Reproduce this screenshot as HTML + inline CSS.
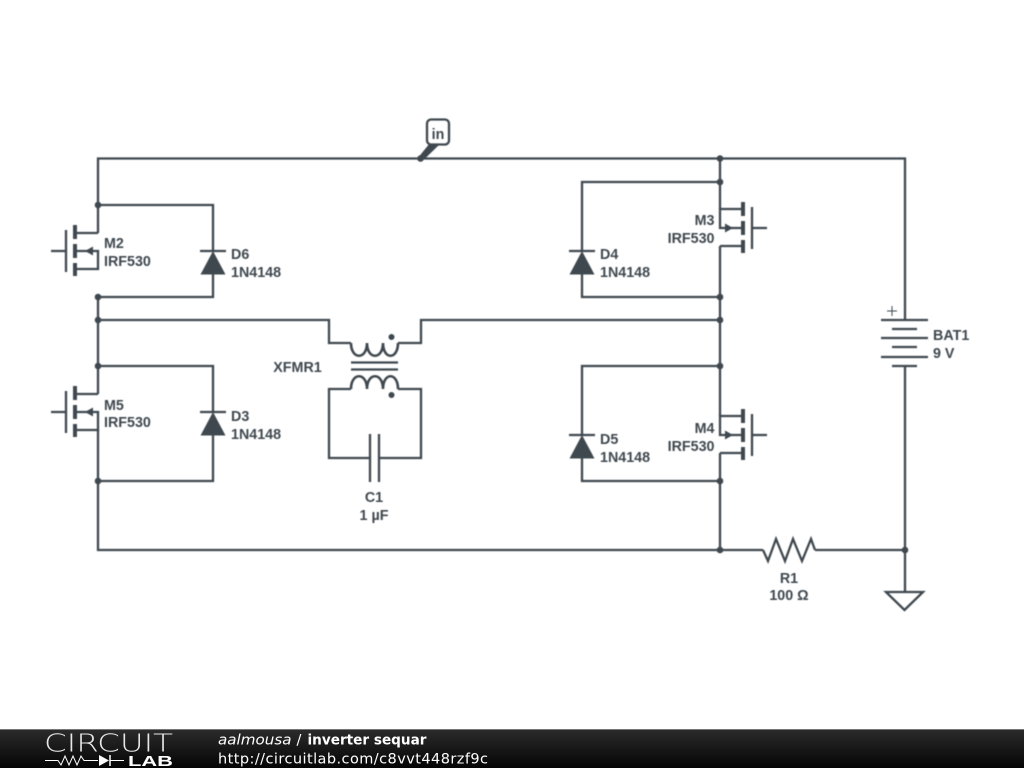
<!DOCTYPE html>
<html><head><meta charset="utf-8"><style>
html,body{margin:0;padding:0;background:#fff;width:1024px;height:768px;overflow:hidden}
svg{display:block}
.w{fill:none;stroke:#3f484f;stroke-width:2.300;stroke-linejoin:miter}
.p{fill:none;stroke:#3f484f;stroke-width:4}
.d{fill:#3f484f}
.t{font-family:"Liberation Sans",sans-serif;font-weight:bold;font-size:14.300px;fill:#3f484f}
.f{font-family:"DejaVu Sans",sans-serif;font-size:14.500px;fill:#fff}
.s{filter:blur(0.4px)}
</style></head><body>
<svg width="1024" height="768" viewBox="0 0 1024 768" xmlns="http://www.w3.org/2000/svg">
<defs>
<linearGradient id="g" x1="0" y1="0" x2="0" y2="1"><stop offset="0" stop-color="#2c2c2c"/><stop offset="1" stop-color="#050505"/></linearGradient>
</defs>
<rect width="1024" height="768" fill="#fff"/>
<g class="s">
<!-- main wires -->
<path class="w" d="M98 205V158.500H905V320M720 158.500V209M98 297V394M720 246V416M720 453V550"/>
<path class="w" d="M98 430V550H763M815 550H905M905 366V592"/>
<path class="w" d="M98 320H329V343H351M398 343H421V320H720"/>
<path class="w" d="M351 389H329V458H370M379 458H421V389H398"/>

<!-- boxes -->
<path class="w" d="M98 205H213V251M213 273V297H98"/>
<path class="w" d="M98 366H213V412M213 435V481H98"/>
<path class="w" d="M720 182H582V251M582 274V297H720"/>
<path class="w" d="M720 366H582V435M582 458V481H720"/>

<!-- M2 -->
<path class="w" d="M51 251H66M66 230V272M75 233H98M75 251H98V269H75M98 233V205"/>
<path class="p" d="M75 225V239M75 244V258M75 263V276"/>
<path class="d" d="M85 251L93 246.500V255.500Z"/>
<!-- M5 -->
<path class="w" d="M51 412H66M66 391V433M75 394H98M75 412H98V430H75"/>
<path class="p" d="M75 386V400M75 405V419M75 424V437"/>
<path class="d" d="M85 412L93 407.500V416.500Z"/>
<!-- M3 -->
<path class="w" d="M767 228H752M752 207V249M743 209H720V228H743M743 246H720"/>
<path class="p" d="M743 202V216M743 221V235M743 240V253"/>
<path class="d" d="M733 228L725 223.500V232.500Z"/>
<!-- M4 -->
<path class="w" d="M767 435H752M752 414V456M743 416H720V435H743M743 453H720"/>
<path class="p" d="M743 409V423M743 428V442M743 447V460"/>
<path class="d" d="M733 435L725 430.500V439.500Z"/>

<!-- diodes -->
<path class="w" d="M200 251H226"/><path class="d" d="M213 251L200.500 274.500H225.500Z"/>
<path class="w" d="M200 412H226"/><path class="d" d="M213 412L200.500 435.500H225.500Z"/>
<path class="w" d="M569 251H595"/><path class="d" d="M582 251L569.500 274.500H594.500Z"/>
<path class="w" d="M569 435H595"/><path class="d" d="M582 435L569.500 458.500H594.500Z"/>

<!-- transformer -->
<path class="w" d="M351 343C351 360 367 360 367 343C367 360 383 360 383 343C383 360 398 360 398 343" style="stroke-width:2.600"/>
<path class="w" d="M351 389C351 372 367 372 367 389C367 372 383 372 383 389C383 372 398 372 398 389" style="stroke-width:2.600"/>
<path class="w" d="M351 362.500H398M351 369.500H398"/>
<circle class="d" cx="391.500" cy="337" r="3"/>
<circle class="d" cx="391.500" cy="395" r="3"/>

<!-- capacitor -->
<path class="w" d="M370 434V482M379 434V482"/>

<!-- resistor -->
<path class="w" d="M763 550L768 561L776 539L785 561L793 539L802 561L811 539L815 550"/>

<!-- battery -->
<path class="w" d="M881 320H928M892 329H917M881 338H928M892 347H917M881 357H928M892 366H917"/>
<path d="M887 311H897M892 306V316" fill="none" stroke="#3f484f" stroke-width="1"/>

<!-- ground -->
<path class="w" d="M886 592H923L904.500 610Z"/>

<!-- in tag -->
<path class="d" d="M419 156.500L430 143H441L423 160.500Z"/>
<rect x="427" y="119.500" width="22" height="25" rx="4" fill="#fff" stroke="#3f484f" stroke-width="2.300"/>
<text class="t" x="438" y="139" text-anchor="middle">in</text>

<!-- junctions -->
<g class="d">
<circle cx="420.500" cy="158.500" r="3.300"/>
<circle cx="720" cy="158.500" r="3.300"/>
<circle cx="720" cy="182" r="3.300"/>
<circle cx="720" cy="297" r="3.300"/>
<circle cx="720" cy="320" r="3.300"/>
<circle cx="720" cy="366" r="3.300"/>
<circle cx="720" cy="481" r="3.300"/>
<circle cx="720" cy="550" r="3.300"/>
<circle cx="905" cy="550" r="3.300"/>
<circle cx="98" cy="205" r="3.300"/>
<circle cx="98" cy="297" r="3.300"/>
<circle cx="98" cy="320" r="3.300"/>
<circle cx="98" cy="366" r="3.300"/>
<circle cx="98" cy="481" r="3.300"/>
</g>

<!-- labels -->
<text class="t" x="104" y="248">M2</text>
<text class="t" x="104" y="266">IRF530</text>
<text class="t" x="104" y="410">M5</text>
<text class="t" x="104" y="427">IRF530</text>
<text class="t" x="231" y="259">D6</text>
<text class="t" x="231" y="277">1N4148</text>
<text class="t" x="231" y="421">D3</text>
<text class="t" x="231" y="439">1N4148</text>
<text class="t" x="600" y="259">D4</text>
<text class="t" x="600" y="277">1N4148</text>
<text class="t" x="600" y="444">D5</text>
<text class="t" x="600" y="462">1N4148</text>
<text class="t" x="714.500" y="225" text-anchor="end">M3</text>
<text class="t" x="714.500" y="243" text-anchor="end">IRF530</text>
<text class="t" x="714.500" y="433" text-anchor="end">M4</text>
<text class="t" x="714.500" y="451" text-anchor="end">IRF530</text>
<text class="t" x="297.500" y="372" text-anchor="middle">XFMR1</text>
<text class="t" x="374" y="502" text-anchor="middle">C1</text>
<text class="t" x="374" y="520" text-anchor="middle">1 µF</text>
<text class="t" x="789" y="583" text-anchor="middle">R1</text>
<text class="t" x="789" y="600" text-anchor="middle">100 Ω</text>
<text class="t" x="933" y="340">BAT1</text>
<text class="t" x="933" y="358">9 V</text>
</g>

<!-- footer -->
<rect x="0" y="729" width="1024" height="39" fill="url(#g)"/>
<rect x="0" y="729" width="1024" height="1" fill="#777"/>
<text x="44" y="751.500" font-family="DejaVu Sans,sans-serif" font-weight="200" font-size="25" fill="#e8e8e8" textLength="129" lengthAdjust="spacingAndGlyphs">CIRCUIT</text>
<path d="M45 760.500H58L61 765L65 756L69 765L73 756L77 765L81 756L84 760.500H98M110 760.500H124" fill="none" stroke="#fff" stroke-width="1"/>
<path d="M99 755V766L109 760.500Z" fill="#fff"/><path d="M110 755V766" stroke="#fff" stroke-width="1.500"/>
<text x="128" y="766" font-family="Liberation Sans,sans-serif" font-weight="bold" font-size="14.500" fill="#fff" textLength="45" lengthAdjust="spacingAndGlyphs">LAB</text>
<text class="f" x="218" y="744.700" font-style="italic" textLength="73.500" lengthAdjust="spacingAndGlyphs">aalmousa</text>
<text class="f" x="296.500" y="744.700">/</text>
<text class="f" x="307.500" y="744.700" font-weight="bold" textLength="119" lengthAdjust="spacingAndGlyphs">inverter sequar</text>
<text class="f" x="218" y="763.700" textLength="270">http://circuitlab.com/c8vvt448rzf9c</text>
</svg>
</body></html>
